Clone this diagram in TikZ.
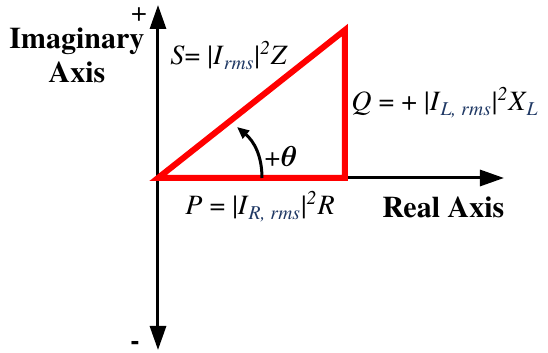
\documentclass[tikz,border=0pt]{standalone}
\usepackage{amsmath}
\usepackage{fontspec}
\setmainfont{texgyretermes}[Extension=.otf,UprightFont=*-regular,BoldFont=*-bold,ItalicFont=*-italic,BoldItalicFont=*-bolditalic]
\usetikzlibrary{arrows.meta}
\definecolor{subblue}{RGB}{31,56,100}
\definecolor{trired}{RGB}{255,0,0}
\tikzset{every node/.style={font=\fontsize{14}{16}\selectfont,inner sep=1pt},line cap=round,line join=round}
\newcommand{\rmssub}[1]{\textsubscript{\color{subblue}\textit{#1}}}

\begin{document}
\begin{tikzpicture}[x=0.5pt,y=0.5pt]
  \path[use as bounding box] (0,0) rectangle (548,353);
  % axes
  \coordinate (O) at (158,175);
  \coordinate (ytop) at (158,348);
  \coordinate (ybot) at (158,3);
  \coordinate (xend) at (504,175);
  \draw[line width=1.5pt,{Triangle[length=12pt,width=8pt]}-{Triangle[length=12pt,width=8pt]}] (ybot) -- (ytop);
  \draw[line width=1.5pt,-{Triangle[length=12pt,width=8pt]}] (O) -- (xend);
  \node[inner sep=0pt] (plus) at (139,338) {+};
  \node[font=\fontsize{14}{16}\selectfont\bfseries] (minus) at (135,8) {-};
  \node[font=\fontsize{15}{17}\selectfont\bfseries,align=center] (imag) at (77,298) {Imaginary\\Axis};
  \node[anchor=base west,font=\fontsize{15}{17}\selectfont\bfseries] (real) at (380,135) {Real Axis};

  % power triangle
  \coordinate (R) at (345,175);
  \coordinate (T) at (345,323);
  \draw[trired,line width=3pt] (O) -- (R) -- (T) -- cycle;
  \node[anchor=base west] (slabel) at (168,288)
    {\textit{S}= |\textit{I}\rmssub{rms}|\textsuperscript{\textit{2}}\textit{Z}};
  \node[anchor=base west] (qlabel) at (349,242)
    {\textit{Q} = + |\textit{I}\rmssub{L, rms}|\textsuperscript{\textit{2}}\textit{X}\rmssub{L}};
  \node[anchor=base west] (plabel) at (183,138)
    {\textit{P} = |\textit{I}\rmssub{R, rms}|\textsuperscript{\textit{2}}\textit{R}};

  % angle
  \coordinate (a1) at (262,175);
  \coordinate (a2) at (237,226);
  \draw[line width=1.5pt,-{Triangle[length=6pt,width=5pt]}] (a1) to[out=90,in=-40] (a2);
  \node (theta) at (281,196) {+$\boldsymbol{\theta}$};
\end{tikzpicture}
\end{document}
